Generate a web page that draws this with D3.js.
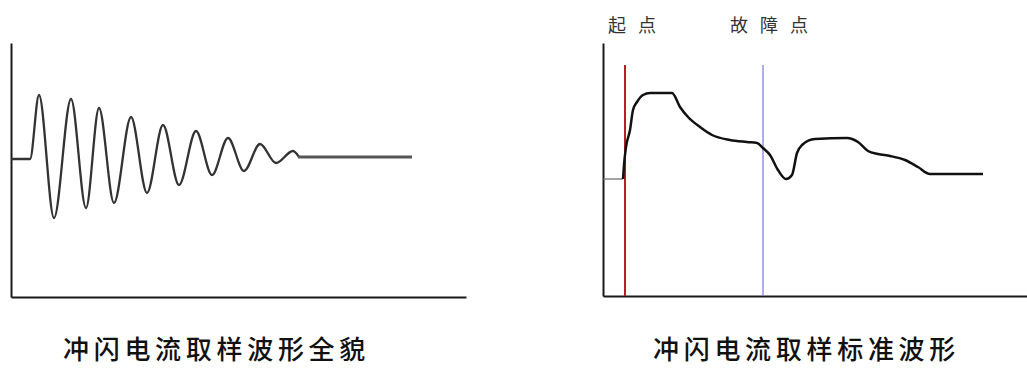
<!DOCTYPE html>
<html>
<head>
<meta charset="utf-8">
<script src="https://cdn.jsdelivr.net/npm/d3@7"></script>
<style>
  html, body { margin: 0; padding: 0; background: #fff; }
  svg { display: block; }
  text { font-family: "Noto Sans CJK SC", "Noto Sans", sans-serif; }
</style>
</head>
<body>
<script>
// ---- Left chart: full surge current waveform (sample index / amplitude) ----
const leftT = [0, 19, 28, 43, 60, 75, 88, 103, 120, 136, 152, 168, 185, 201, 217, 233, 249, 265, 282, 288];
const leftV = [0, 0, 64, -59, 60, -49, 51, -44, 42, -34, 34, -26, 28, -16, 21, -12, 15, -4, 8, 2];
const leftTailT = [287, 401];
const leftTailV = [2, 2];
const leftTitle = "冲闪电流取样波形全貌";

// ---- Right chart: standard waveform ----
const rightStartT = [0, 20];
const rightStartV = [0, 0];
const rightT = [20, 21, 23, 27, 30, 34, 40, 47, 69, 77, 85, 97, 109, 127, 144, 154, 160, 167, 175, 183, 189, 194, 199, 212, 244, 255, 265, 275, 287, 302, 315, 327, 380];
const rightV = [0, 14, 32, 49, 69, 77, 84, 86, 86, 72, 62, 52, 44, 39, 37, 36, 31, 24, 9, 0, 4, 26, 34, 40, 41, 37, 28, 25, 23, 19, 12, 5, 5];
const markerNames = ["起点", "故障点"];
const markerT = [22, 160];
const markerTop = 114;
const rightTitle = "冲闪电流取样标准波形";

const W = 1027, H = 372;
const svg = d3.select("body").append("svg").attr("width", W).attr("height", H);

// Scales
const xL = d3.scaleLinear().domain([0, 455]).range([11, 466]);
const yL = d3.scaleLinear().domain([-138, 116]).range([297, 43]);
const xR = d3.scaleLinear().domain([0, 424]).range([603, 1027]);
const yR = d3.scaleLinear().domain([-117, 136]).range([296, 43]);

function drawAxes(x, y) {
  const gx = svg.append("g").attr("transform", `translate(0,${y.range()[0]})`)
    .call(d3.axisBottom(x).ticks(0).tickSizeOuter(0));
  const gy = svg.append("g").attr("transform", `translate(${x.range()[0]},0)`)
    .call(d3.axisLeft(y).ticks(0).tickSizeOuter(0));
  [gx, gy].forEach(g => g.select(".domain").attr("stroke", "#1a1a1a").attr("stroke-width", 2));
}
drawAxes(xL, yL);
drawAxes(xR, yR);

function lineFor(x, y, curve) {
  return d3.line().x(d => x(d[0])).y(d => y(d[1])).curve(curve);
}
const zip = (a, b) => a.map((v, i) => [v, b[i]]);

// Left waveform
svg.append("path").datum(zip(leftT, leftV))
  .attr("d", lineFor(xL, yL, d3.curveMonotoneX))
  .attr("fill", "none").attr("stroke", "#333").attr("stroke-width", 2.3);
svg.append("path").datum(zip(leftTailT, leftTailV))
  .attr("d", lineFor(xL, yL, d3.curveLinear))
  .attr("fill", "none").attr("stroke", "#555").attr("stroke-width", 3);

// Right markers
markerT.forEach((t, i) => {
  svg.append("line")
    .attr("x1", xR(t)).attr("x2", xR(t))
    .attr("y1", yR(markerTop)).attr("y2", yR.range()[0])
    .attr("stroke", i === 0 ? "#b52025" : "#7b7bd6")
    .attr("stroke-width", i === 0 ? 2 : 1.2);
});
const markerLabelX = [608, 730];
markerNames.forEach((n, i) => {
  svg.append("text").attr("x", markerLabelX[i]).attr("y", 32)
    .attr("font-size", 18).attr("letter-spacing", 12).attr("fill", "#333")
    .text(n);
});

// Right waveform
svg.append("path").datum(zip(rightStartT, rightStartV))
  .attr("d", lineFor(xR, yR, d3.curveLinear))
  .attr("fill", "none").attr("stroke", "#666").attr("stroke-width", 1.2);
svg.append("path").datum(zip(rightT, rightV))
  .attr("d", lineFor(xR, yR, d3.curveMonotoneX))
  .attr("fill", "none").attr("stroke", "#111").attr("stroke-width", 2.5)
  .attr("stroke-linejoin", "round");

// Titles
svg.append("text").attr("x", 63).attr("y", 359)
  .attr("font-size", 26).attr("letter-spacing", 4.7).attr("font-weight", 500).attr("fill", "#111").text(leftTitle);
svg.append("text").attr("x", 653).attr("y", 359)
  .attr("font-size", 26).attr("letter-spacing", 4.7).attr("font-weight", 500).attr("fill", "#111").text(rightTitle);
</script>
</body>
</html>
